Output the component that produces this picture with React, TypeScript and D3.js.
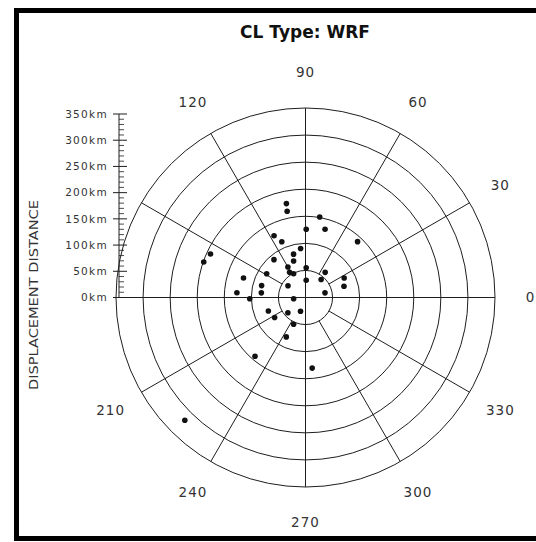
import React from "react";
import * as d3 from "d3";

// Cyclone-centre displacement observations: bearing (deg) and distance (km)
const bearingsDeg = [
  101.5, 102, 80, 89.4, 74, 47, 117, 113, 155.4, 160.8,
  95.7, 105.4, 108, 129.8, 120, 88.7, 122.3, 116.6, 148.6, 52,
  49, 26.8, 16.2, 87.7, 162.6, 146, 164.8, 174, 176, 181.3,
  13.4, 186, 200, 220.8, 250, 213, 246, 244, 229.3, 275.4,
  225.5,
];
const distancesKm = [
  177, 163, 151, 126, 131, 141, 128, 112, 193, 199,
  91, 83, 71, 91, 65, 55, 55, 49, 84, 59,
  44, 80, 74, 32, 120, 39, 84, 82, 127, 103,
  37, 22, 73, 43, 27, 68, 54, 81, 143, 131,
  318,
];

const ringKm = [50, 100, 150, 200, 250, 300, 350];
const spokeDeg = [0, 30, 60, 90, 120, 150, 180, 210, 240, 270, 300, 330];
const angleLabels = ["0", "30", "60", "90", "120", "210", "240", "270", "300", "330"];
const axisTickKm = [0, 50, 100, 150, 200, 250, 300, 350];
const titleText = "CL Type: WRF";
const axisTitle = "DISPLACEMENT DISTANCE";

const W = 536;
const H = 542;
const cx = 305.5;
const cy = 297.5;
const R = 189.5;
const labelR = 225;

const rScale = d3.scaleLinear().domain([0, 350]).range([0, R]);
const yAxis = d3.scaleLinear().domain([0, 350]).range([297.5, 114]);
const axisX = 119;

const polar = (deg: number, r: number) => {
  const a = (deg * Math.PI) / 180;
  return [cx + r * Math.cos(a), cy - r * Math.sin(a)];
};

const ink = "#1e1e1e";
const font = "'DejaVu Sans', sans-serif";

export default function App() {
  const minorTicks = d3.range(0, 351, 10).filter((v) => v % 50 !== 0);
  return (
    <svg
      width={W}
      height={H}
      viewBox={`0 0 ${W} ${H}`}
      style={{ position: "absolute", left: 0, top: 0, background: "#fff" }}
    >
      {/* frame: left, top and bottom edges; the right edge runs past the page */}
      <rect x={0} y={0} width={W} height={H} fill="#fff" />
      <path d={`M${W + 10},10.5 H16.5 V538.5 H${W + 10}`} fill="none" stroke="#000" strokeWidth={5} />

      <text x={305} y={38} textAnchor="middle" fontFamily={font} fontWeight="bold" fontSize={17} fill="#111">
        {titleText}
      </text>

      {/* rings */}
      {ringKm.map((k) => (
        <circle key={k} cx={cx} cy={cy} r={rScale(k)} fill="none" stroke={ink} strokeWidth={1} />
      ))}

      {/* spokes */}
      {spokeDeg.map((deg) => {
        const inner = deg % 90 === 0 ? 0 : rScale(ringKm[0]);
        const [x1, y1] = polar(deg, inner);
        const [x2, y2] = polar(deg, R);
        return <line key={deg} x1={x1} y1={y1} x2={x2} y2={y2} stroke={ink} strokeWidth={1} />;
      })}

      {/* bearing labels */}
      {angleLabels.map((t) => {
        const [x, y] = polar(+t, labelR);
        return (
          <text
            key={t}
            x={x}
            y={y}
            dy="0.35em"
            textAnchor="middle"
            fontFamily={font}
            fontSize={13.5}
            letterSpacing={1}
            fill="#333"
          >
            {t}
          </text>
        );
      })}

      {/* distance axis */}
      <line x1={axisX} x2={axisX} y1={yAxis(350)} y2={yAxis(0)} stroke={ink} strokeWidth={1} />
      {minorTicks.map((v) => (
        <line key={v} x1={axisX} x2={axisX + 5} y1={yAxis(v)} y2={yAxis(v)} stroke={ink} strokeWidth={0.8} />
      ))}
      {axisTickKm.map((v) => (
        <g key={v}>
          <line x1={axisX - 6} x2={axisX + 8} y1={yAxis(v)} y2={yAxis(v)} stroke={ink} strokeWidth={1} />
          <text
            x={108}
            y={yAxis(v)}
            dy="0.35em"
            textAnchor="end"
            fontFamily={font}
            fontSize={10.5}
            letterSpacing={1.3}
            fill="#333"
          >
            {`${v}km`}
          </text>
        </g>
      ))}
      <text
        transform={`translate(37.5, 295) rotate(-90)`}
        textAnchor="middle"
        fontFamily={font}
        fontSize={12}
        textLength={190}
        lengthAdjust="spacingAndGlyphs"
        fill="#333"
      >
        {axisTitle}
      </text>

      {/* observations */}
      {bearingsDeg.map((deg, i) => {
        const [x, y] = polar(deg, rScale(distancesKm[i]));
        return <circle key={i} cx={x} cy={y} r={2.8} fill="#111" />;
      })}
    </svg>
  );
}
